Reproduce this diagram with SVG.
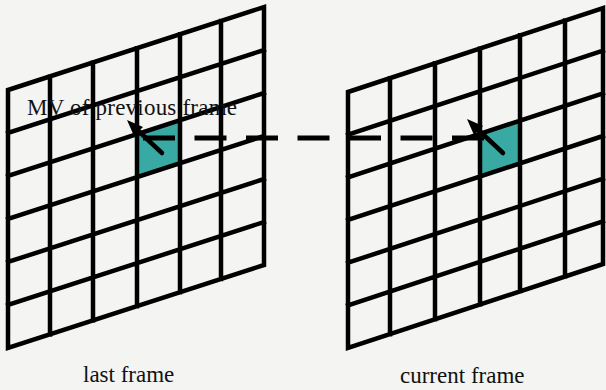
<svg xmlns="http://www.w3.org/2000/svg" width="606" height="390" viewBox="0 0 606 390">
<style>
.bg{fill:#f4f4f2}
.grid{fill:none;stroke:#000;stroke-width:4.5;stroke-linejoin:miter;stroke-linecap:square}
.cell{fill:#39a9a4}
.lbl{font-family:"Liberation Serif","Times New Roman",serif;font-size:23px;fill:#111}
.dash{fill:none;stroke:#000;stroke-width:5;stroke-dasharray:32 19.5}
.mv{fill:none;stroke:#000;stroke-width:4.5;stroke-linecap:round}
.head{fill:#000}
</style>
<rect class="bg" x="0" y="0" width="606" height="390"/>
<g id="last-frame">
  <polygon class="cell" points="137,134.2 180,120.2 180,163.2 137,177.2"/>
  <path class="grid" d="M8,90 L264,7 L264,265 L8,348 Z
    M50,76.4 V334.4 M93,62.4 V320.4 M137,48.2 V306.2 M180,34.2 V292.2 M221,20.9 V278.9
    M8,133 L264,50 M8,176 L264,93 M8,219 L264,136 M8,262 L264,179 M8,305 L264,222"/>
  <text class="lbl" x="83" y="382">last frame</text>
</g>
<g id="current-frame">
  <polygon class="cell" points="480,133.8 520,120.6 520,163.3 480,176.5"/>
  <path class="grid" d="M348,92 L603,8 L603,264 L348,348 Z
    M390,78.2 V334.2 M435,63.3 V319.3 M480,48.5 V304.5 M520,35.3 V291.3 M565,20.5 V276.5
    M348,134.7 L603,50.7 M348,177.3 L603,93.3 M348,220 L603,136 M348,262.7 L603,178.7 M348,305.3 L603,221.3"/>
  <text class="lbl" x="400" y="383">current frame</text>
</g>
<g id="connectors">
  <line class="dash" x1="143" y1="138" x2="485" y2="138"/>
  <line class="mv" x1="162" y1="153" x2="133" y2="126"/>
  <polygon class="head" points="127,120 143,127 134,136"/>
  <line class="mv" x1="503" y1="153" x2="473" y2="125"/>
  <polygon class="head" points="467,119 483,126 474,135"/>
</g>
<text class="lbl" x="27" y="115" textLength="210">MV of previous frame</text>
</svg>
